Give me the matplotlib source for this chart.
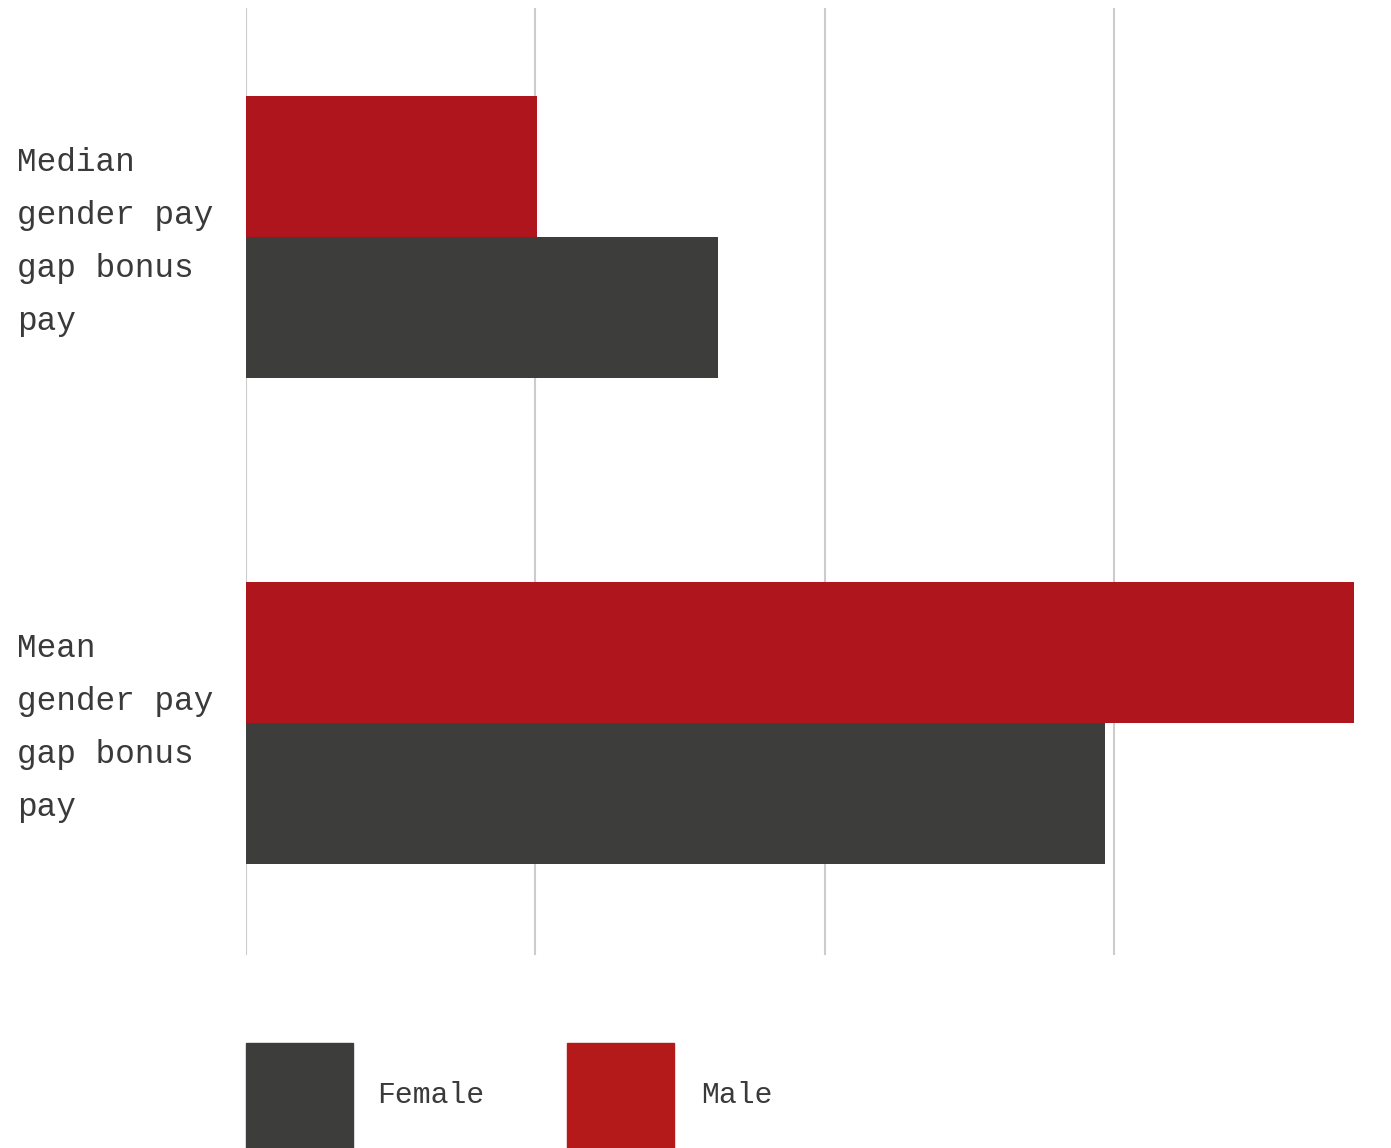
import matplotlib.pyplot as plt
from matplotlib.patches import Rectangle
from matplotlib.transforms import blended_transform_factory

categories = ["Median\ngender pay\ngap bonus\npay", "Mean\ngender pay\ngap bonus\npay"]
male = [10.05, 38.3]
female = [16.3, 29.7]
grid_ticks = [0, 10, 20, 30]

DARK = "#3d3d3b"
RED = "#ae151d"
RED_LEGEND = "#b51a1b"
TEXT = "#3a3a3a"
FONT = ["Liberation Mono", "DejaVu Sans Mono"]

W, H = 1391, 1148
fig = plt.figure(figsize=(W / 100, H / 100), dpi=100)
ax = fig.add_axes([246 / W, 1 - 955 / H, (1354 - 246) / W, (955 - 8) / H])

bar_h = 0.29
pos = list(range(len(categories)))
ax.barh([p - bar_h / 2 for p in pos], male, height=bar_h, color=RED, zorder=2)
ax.barh([p + bar_h / 2 for p in pos], female, height=bar_h, color=DARK, zorder=2)

ax.set_xlim(0, max(male))
ax.set_ylim(1.477, -0.471)
ax.set_xticks(grid_ticks)
ax.set_yticks([])
ax.tick_params(length=0, labelbottom=False)
ax.grid(axis="x", color="#cccccc", linewidth=1.5, zorder=0)
for s in ax.spines.values():
    s.set_visible(False)

trans = blended_transform_factory(fig.transFigure, ax.transData)
for p, label in zip(pos, categories):
    ax.text(17 / W, p + 0.01, label, transform=trans, ha="left", va="center",
            fontsize=23.6, family=FONT, color=TEXT, linespacing=1.91)

# legend drawn by hand so the swatches run off the bottom edge
for x0, col, lab, tx in [(246, DARK, "Female", 377), (567, RED_LEGEND, "Male", 701)]:
    fig.patches.append(Rectangle((x0 / W, 0), 107 / W, (1148 - 1043) / H,
                                 transform=fig.transFigure, color=col))
    fig.text(tx / W, 1 - 1095 / H, lab, ha="left", va="center",
             fontsize=21.4, family=FONT, color=TEXT)

fig.savefig("out.png", dpi=100)
